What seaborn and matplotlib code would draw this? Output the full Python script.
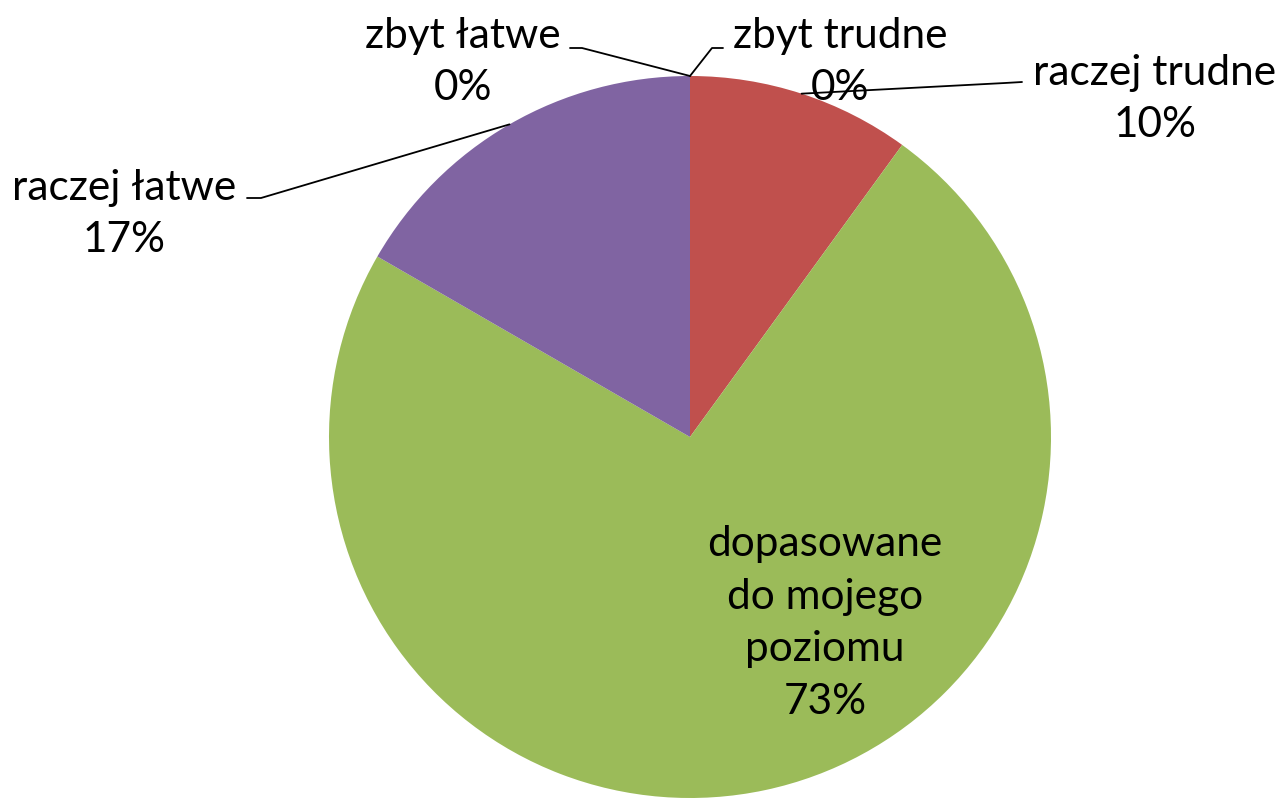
import matplotlib
matplotlib.use("Agg")
import matplotlib.pyplot as plt
import seaborn as sns
import numpy as np

categories = ["zbyt trudne", "raczej trudne", "dopasowane\ndo mojego\npoziomu", "raczej łatwe", "zbyt łatwe"]
counts = [0, 3, 22, 5, 0]
pct_labels = ["0%", "10%", "73%", "17%", "0%"]
colors = ["#4F81BD", "#C0504D", "#9BBB59", "#8064A2", "#4BACC6"]

sns.set_theme(style="white")
plt.rcParams["font.family"] = ["Lato", "DejaVu Sans"]

W, H = 1287, 798
fig = plt.figure(figsize=(W / 100, H / 100), dpi=100)
ax = fig.add_axes([0, 0, 1, 1])

cx, cy, R = 690, 798 - 437, 361
wedges, _ = ax.pie(counts, colors=colors, startangle=90, counterclock=False,
                   center=(cx, cy), radius=R, frame=True,
                   wedgeprops=dict(linewidth=0))
ax.set_xlim(0, W)
ax.set_ylim(0, H)
ax.set_aspect("equal")
ax.axis("off")

fs = 30.5
# label text positions (pixel coords, top-origin) and leader elbows
text_pos = {
    0: (840, 62),
    1: (1155, 99),
    2: (825, 623),
    3: (124, 214),
    4: (463, 62),
}
leaders = {
    0: [(712, 48), (723, 48)],
    1: [(1005, 83), (1022, 82)],
    3: [(261, 198), (247, 198)],
    4: [(582, 48), (570, 48)],
}

for i, w in enumerate(wedges):
    x, y = text_pos[i]
    ax.text(x, H - y, f"{categories[i]}\n{pct_labels[i]}", ha="center", va="center",
            fontsize=fs, color="black", linespacing=1.48)
    if i in leaders:
        ang = np.deg2rad((w.theta1 + w.theta2) / 2)
        sx, sy = w.center[0] + R * np.cos(ang), w.center[1] + R * np.sin(ang)
        pts = [(sx, sy)] + [(px, H - py) for px, py in leaders[i]]
        xs, ys = zip(*pts)
        ax.plot(xs, ys, color="black", linewidth=1.3, zorder=5)

fig.savefig("out.png", dpi=100, facecolor="white")
